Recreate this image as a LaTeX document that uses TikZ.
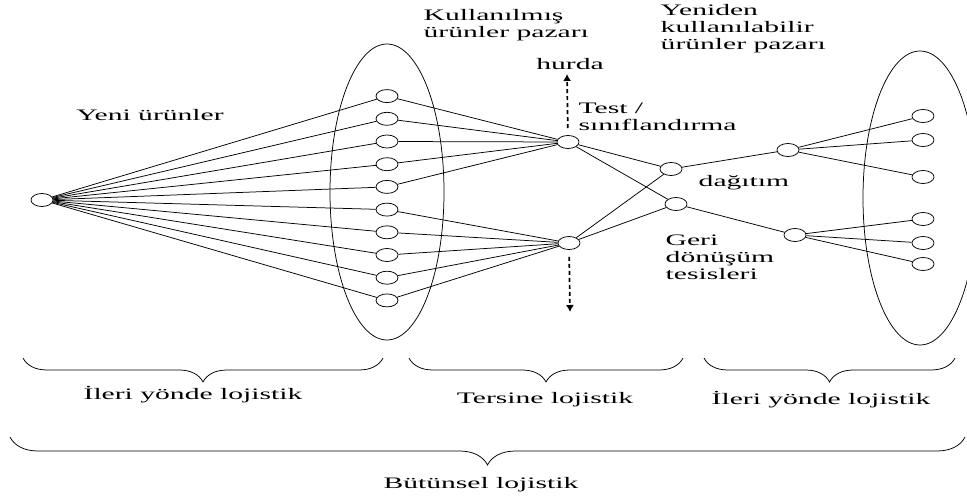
\documentclass[tikz,border=0pt]{standalone}
\usepackage{fontspec}
\setmainfont{Liberation Serif}
\usetikzlibrary{shapes.geometric,decorations.pathreplacing,arrows.meta}
\begin{document}
\begin{tikzpicture}[x=1pt,y=-1pt,line width=0.75pt]
\tikzstyle{site}=[draw, ellipse, minimum width=22, minimum height=13, inner sep=0pt]
\tikzstyle{lbl}=[font=\fontsize{16}{17}\selectfont, inner sep=0pt, xscale=1.85]
\tikzstyle{grp}=[decorate, decoration={brace, mirror, amplitude=24pt}]
\tikzstyle{away}=[dash pattern=on 4pt off 3pt, line width=1.7pt, -{Latex[length=7pt,width=8pt]}, shorten <=7pt]
\clip (0,0) rectangle (967,497);
\draw (387,192) ellipse [x radius=57, y radius=148];
\draw (920,198) ellipse [x radius=57, y radius=147];
\node[site] (src) at (42,200) {};
\foreach \i in {1,...,10}
  \node[site] (m\i) at (387,{73.4+22.7*\i}) {};
\node[site] (tst) at (568,142) {};
\node[site] (col) at (569,243) {};
\node[site] (dag) at (671,169) {};
\node[site] (geri) at (676,204) {};
\node[site] (ru) at (788,150) {};
\node[site] (rl) at (795,235) {};
\node[site] (r1) at (923,116) {};
\node[site] (r2) at (923,140) {};
\node[site] (r3) at (923,177) {};
\node[site] (r4) at (923,219) {};
\node[site] (r5) at (923,243) {};
\node[site] (r6) at (923,264) {};
\foreach \i in {1,...,10}
  \draw (src) -- (m\i);
\foreach \i in {1,...,5}
  \draw (m\i) -- (tst);
\foreach \i in {6,...,10}
  \draw (m\i) -- (col);
\draw (tst) -- (dag);
\draw (tst) -- (geri);
\draw (col) -- (dag);
\draw (col) -- (geri);
\draw (dag) -- (ru);
\draw (geri) -- (rl);
\foreach \i in {1,2,3}
  \draw (ru) -- (r\i);
\foreach \i in {4,5,6}
  \draw (rl) -- (r\i);
\coordinate (scrap) at (567,74);
\coordinate (dump) at (570,312);
\draw[away] (tst) -- (scrap);
\draw[away] (col) -- (dump);
\node[lbl] (yeni) at (150,115) {Yeni ürünler};
\node[lbl, anchor=west, align=left] (used) at (423,25) {Kullanılmış\\ürünler pazarı};
\node[lbl] (hurda) at (570,64) {hurda};
\node[lbl, anchor=west, align=left] (test) at (578,117) {Test /\\sınıflandırma};
\node[lbl, anchor=west, align=left] (reuse) at (660,29) {Yeniden\\kullanılabilir\\ürünler pazarı};
\node[lbl, anchor=west] (dist) at (698,183) {dağıtım};
\node[lbl, anchor=west, align=left] (recyc) at (665,257) {Geri\\dönüşüm\\tesisleri};
\draw[grp] (23,358) -- (383,358);
\draw[grp] (409,358) -- (683,358);
\draw[grp] (704,358) -- (955,358);
\draw[grp, decoration={amplitude=28pt}] (10,437) -- (965,437);
\node[lbl] (fwd1) at (193,395) {İleri yönde lojistik};
\node[lbl] (rev) at (545,400) {Tersine lojistik};
\node[lbl] (fwd2) at (821,400) {İleri yönde lojistik};
\node[lbl] (whole) at (481,485) {Bütünsel lojistik};
\end{tikzpicture}
\end{document}
